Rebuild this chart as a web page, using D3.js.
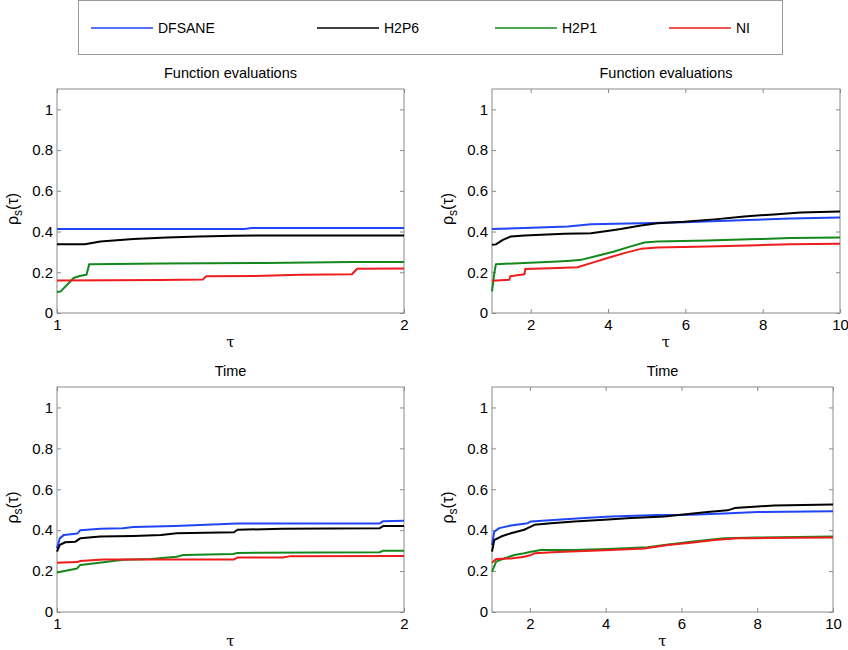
<!DOCTYPE html>
<html>
<head>
<meta charset="utf-8">
<script src="https://cdn.jsdelivr.net/npm/d3@7"></script>
<style>
  body { margin: 0; background: #fff; }
  svg text { font-family: Arial, "Liberation Sans", sans-serif; fill: #000; }
</style>
</head>
<body>
<div id="chart"></div>
<script>
// series and ticks
const seriesNames = ["DFSANE", "H2P6", "H2P1", "NI"];
const seriesColors = ["#1f45f5", "#000000", "#14881c", "#ee1c1c"];
const yTicks = [0, 0.2, 0.4, 0.6, 0.8, 1];
const xTicksShort = [1, 2];
const xTicksLong = [2, 4, 6, 8, 10];
const panelTitles = ["Function evaluations", "Function evaluations", "Time", "Time"];

// function evaluations, tau in [1,2]
const feShortDFSANE = [[1, 0.412], [1.54, 0.412], [1.56, 0.417], [2, 0.417]];
const feShortH2P6 = [[1, 0.338], [1.08, 0.338], [1.125, 0.351], [1.22, 0.363], [1.316, 0.371], [1.41, 0.376], [1.51, 0.379], [1.6, 0.381], [2, 0.381]];
const feShortH2P1 = [[1, 0.103], [1.01, 0.105], [1.03, 0.14], [1.048, 0.172], [1.065, 0.182], [1.085, 0.188], [1.093, 0.24], [1.3, 0.243], [1.6, 0.246], [1.85, 0.25], [2, 0.25]];
const feShortNI = [[1, 0.16], [1.3, 0.162], [1.42, 0.165], [1.43, 0.18], [1.57, 0.182], [1.7, 0.188], [1.85, 0.19], [1.865, 0.217], [2, 0.218]];

// function evaluations, tau in [1,10]
const feLongDFSANE = [[1, 0.412], [1.84, 0.417], [2.96, 0.425], [3.56, 0.436], [4.85, 0.441], [5.97, 0.446], [7.43, 0.456], [8.72, 0.464], [10, 0.469]];
const feLongH2P6 = [[1, 0.335], [1.1, 0.337], [1.28, 0.359], [1.49, 0.376], [1.84, 0.381], [2.87, 0.389], [3.56, 0.392], [4.07, 0.405], [4.33, 0.412], [4.85, 0.43], [5.28, 0.441], [5.97, 0.448], [6.83, 0.461], [7.52, 0.474], [8.29, 0.484], [8.98, 0.493], [10, 0.498]];
const feLongH2P1 = [[1, 0.106], [1.06, 0.196], [1.1, 0.24], [1.84, 0.245], [2.7, 0.253], [3.04, 0.257], [3.3, 0.261], [3.73, 0.281], [4.16, 0.302], [4.59, 0.327], [4.94, 0.346], [5.28, 0.351], [6.57, 0.356], [7.87, 0.363], [8.72, 0.368], [10, 0.371]];
const feLongNI = [[1, 0.158], [1.45, 0.163], [1.47, 0.18], [1.75, 0.188], [1.84, 0.19], [1.86, 0.216], [2.7, 0.221], [3.21, 0.225], [3.56, 0.245], [3.99, 0.27], [4.42, 0.294], [4.85, 0.315], [5.28, 0.322], [6.57, 0.327], [7.87, 0.333], [8.72, 0.338], [10, 0.34]];

// time, tau in [1,2]
const tShortDFSANE = [[1, 0.311], [1.008, 0.36], [1.02, 0.377], [1.053, 0.382], [1.06, 0.385], [1.067, 0.4], [1.125, 0.407], [1.19, 0.41], [1.22, 0.416], [1.34, 0.421], [1.43, 0.426], [1.52, 0.433], [1.93, 0.433], [1.94, 0.444], [2, 0.446]];
const tShortH2P6 = [[1, 0.295], [1.008, 0.328], [1.024, 0.341], [1.053, 0.344], [1.067, 0.36], [1.125, 0.369], [1.22, 0.372], [1.3, 0.377], [1.345, 0.385], [1.51, 0.39], [1.52, 0.402], [1.65, 0.407], [1.93, 0.41], [1.94, 0.42], [2, 0.421]];
const tShortH2P1 = [[1, 0.193], [1.058, 0.213], [1.067, 0.23], [1.134, 0.243], [1.19, 0.256], [1.27, 0.259], [1.345, 0.27], [1.364, 0.279], [1.508, 0.284], [1.52, 0.289], [1.93, 0.292], [1.94, 0.3], [2, 0.3]];
const tShortNI = [[1, 0.241], [1.058, 0.244], [1.067, 0.249], [1.134, 0.257], [1.51, 0.257], [1.52, 0.266], [1.65, 0.266], [1.67, 0.272], [2, 0.274]];

// time, tau in [1,10]
const tLongDFSANE = [[1, 0.328], [1.06, 0.393], [1.19, 0.41], [1.5, 0.423], [1.94, 0.434], [2.03, 0.443], [2.73, 0.451], [3.44, 0.459], [4.14, 0.467], [5.37, 0.474], [6.25, 0.475], [7.13, 0.482], [8.01, 0.489], [10, 0.492]];
const tLongH2P6 = [[1, 0.295], [1.06, 0.352], [1.24, 0.369], [1.5, 0.385], [1.85, 0.402], [1.94, 0.41], [2.12, 0.426], [2.56, 0.434], [3.17, 0.443], [3.96, 0.451], [4.67, 0.459], [5.55, 0.467], [5.99, 0.475], [6.69, 0.489], [7.22, 0.497], [7.4, 0.508], [8.01, 0.516], [8.45, 0.521], [10, 0.526]];
const tLongH2P1 = [[1, 0.197], [1.11, 0.246], [1.33, 0.262], [1.59, 0.279], [1.85, 0.287], [2.03, 0.295], [2.29, 0.303], [3.17, 0.303], [4.05, 0.308], [5.11, 0.316], [5.55, 0.328], [6.25, 0.344], [7.13, 0.361], [8.01, 0.364], [10, 0.369]];
const tLongNI = [[1, 0.241], [1.11, 0.259], [1.5, 0.262], [1.85, 0.27], [2.03, 0.279], [2.12, 0.287], [2.73, 0.293], [3.44, 0.298], [4.14, 0.303], [5.02, 0.311], [5.64, 0.328], [6.25, 0.339], [6.87, 0.352], [7.48, 0.361], [8.01, 0.361], [10, 0.364]];

const panels = [
    { title: panelTitles[0], domain: [1, 2], ticks: xTicksShort, box: { x0: 57, x1: 404, y0: 89, y1: 313 }, series: [feShortDFSANE, feShortH2P6, feShortH2P1, feShortNI] },
    { title: panelTitles[1], domain: [1, 10], ticks: xTicksLong, box: { x0: 492, x1: 840, y0: 89, y1: 313 }, series: [feLongDFSANE, feLongH2P6, feLongH2P1, feLongNI] },
    { title: panelTitles[2], domain: [1, 2], ticks: xTicksShort, box: { x0: 57, x1: 404, y0: 387, y1: 612 }, series: [tShortDFSANE, tShortH2P6, tShortH2P1, tShortNI] },
    { title: panelTitles[3], domain: [1, 10], ticks: xTicksLong, box: { x0: 492, x1: 833, y0: 387, y1: 612 }, series: [tLongDFSANE, tLongH2P6, tLongH2P1, tLongNI] }
];

const axisGray = "#8a8a8a";

const svg = d3.select("#chart")
    .append("svg")
    .attr("width", 848)
    .attr("height", 650);

// legend
const legend = svg.append("g").attr("class", "legend");
legend.append("rect")
    .attr("x", 78.5)
    .attr("y", 0.5)
    .attr("width", 704)
    .attr("height", 54)
    .attr("fill", "#fff")
    .attr("stroke", "#999");

const legendX = [91, 317, 495, 669];
seriesNames.forEach((name, i) => {
    legend.append("line")
        .attr("x1", legendX[i])
        .attr("x2", legendX[i] + 62)
        .attr("y1", 28)
        .attr("y2", 28)
        .attr("stroke", seriesColors[i])
        .attr("stroke-width", 1.5);
    legend.append("text")
        .attr("x", legendX[i] + 67)
        .attr("y", 33)
        .style("font-size", "14px")
        .text(name);
});

panels.forEach((p) => {
    const { x0, x1, y0, y1 } = p.box;
    const g = svg.append("g");

    const x = d3.scaleLinear().domain(p.domain).range([x0, x1]);
    const y = d3.scaleLinear().domain([0, 1.1]).range([y1, y0]);

    // left axis with labels, ticks pointing inward
    const left = g.append("g")
        .attr("transform", `translate(${x0},0)`)
        .call(d3.axisLeft(y).tickValues(yTicks).tickSize(-4).tickSizeOuter(0).tickPadding(4).tickFormat(d3.format("~g")));
    // right axis, ticks only
    const right = g.append("g")
        .attr("transform", `translate(${x1},0)`)
        .call(d3.axisRight(y).tickValues(yTicks).tickSize(-4).tickSizeOuter(0).tickFormat(""));
    // bottom axis with labels
    const bottom = g.append("g")
        .attr("transform", `translate(0,${y1})`)
        .call(d3.axisBottom(x).tickValues(p.ticks).tickSize(-4).tickSizeOuter(0).tickPadding(6).tickFormat(d3.format("~g")));
    // top axis, ticks only
    const top = g.append("g")
        .attr("transform", `translate(0,${y0})`)
        .call(d3.axisTop(x).tickValues(p.ticks).tickSize(-4).tickSizeOuter(0).tickFormat(""));

    [left, right, bottom, top].forEach((a) => {
        a.select(".domain").remove();
        a.selectAll("line").attr("stroke", axisGray);
        a.selectAll("text")
            .style("font-size", "15px")
            .style("font-family", "Arial, 'Liberation Sans', sans-serif")
            .attr("fill", "#000");
    });

    g.append("rect")
        .attr("x", x0)
        .attr("y", y0)
        .attr("width", x1 - x0)
        .attr("height", y1 - y0)
        .attr("fill", "none")
        .attr("stroke", axisGray);

    // curves
    const line = d3.line()
        .x((d) => x(d[0]))
        .y((d) => y(d[1]));

    p.series.forEach((s, i) => {
        g.append("path")
            .datum(s)
            .attr("fill", "none")
            .attr("stroke", seriesColors[i])
            .attr("stroke-width", 2)
            .attr("stroke-linejoin", "round")
            .attr("d", line);
    });

    // title
    g.append("text")
        .attr("x", (x0 + x1) / 2)
        .attr("y", y0 - 11)
        .attr("text-anchor", "middle")
        .style("font-size", "14.5px")
        .text(p.title);

    // x label
    g.append("text")
        .attr("x", (x0 + x1) / 2)
        .attr("y", y1 + 34)
        .attr("text-anchor", "middle")
        .style("font-size", "15px")
        .style("font-family", "'DejaVu Serif', serif")
        .text("τ");

    // y label
    const yl = g.append("text")
        .attr("transform", `translate(${x0 - 39},${(y0 + y1) / 2 + 8}) rotate(-90)`)
        .attr("text-anchor", "middle")
        .style("font-size", "16px");
    yl.append("tspan").text("ρ");
    yl.append("tspan").attr("dy", 4).style("font-size", "12px").text("s");
    yl.append("tspan").attr("dy", -4).text("(τ)");
});
</script>
</body>
</html>
